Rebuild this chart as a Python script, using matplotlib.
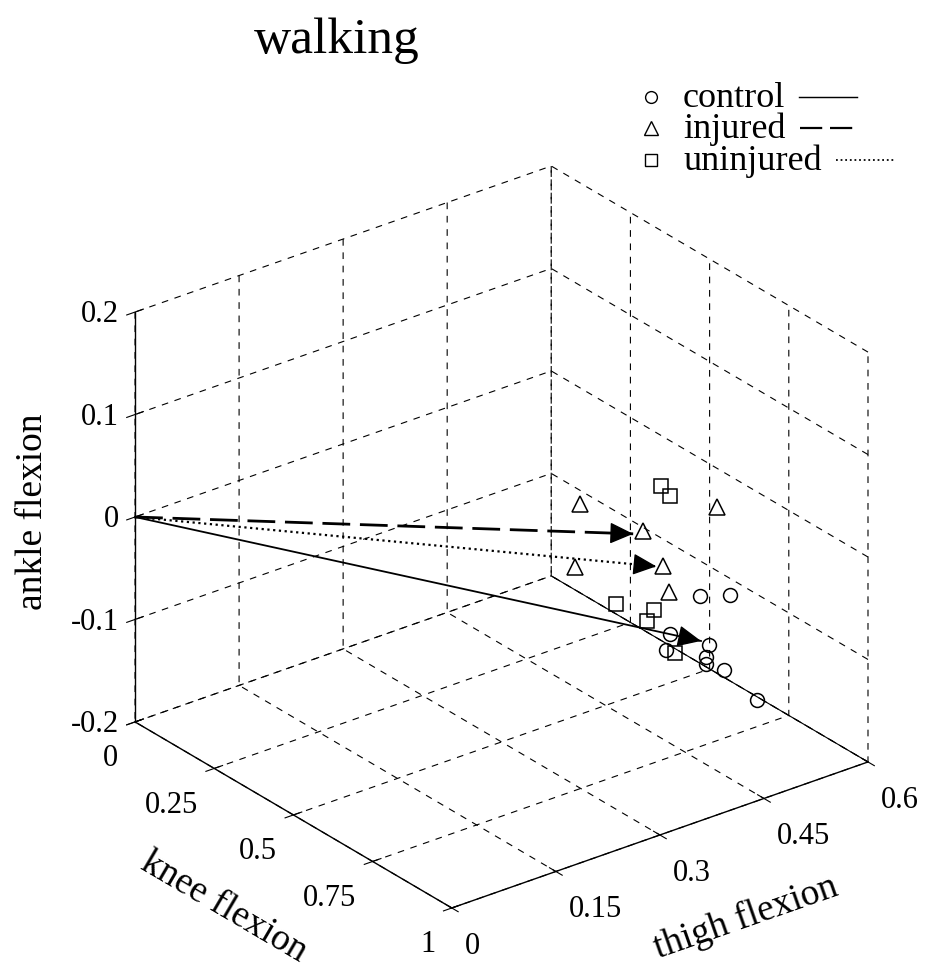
import numpy as np
import matplotlib
matplotlib.use("Agg")
import matplotlib.pyplot as plt
from matplotlib.lines import Line2D
from matplotlib.patches import FancyArrowPatch
from mpl_toolkits.mplot3d import proj3d

plt.rcParams["font.family"] = ["Liberation Serif", "DejaVu Serif"]
plt.rcParams["axes.unicode_minus"] = False

# axis ranges / ticks (x = knee, y = thigh, z = ankle)
knee_lim = [0, 1]
thigh_lim = [0, 0.6]
ankle_lim = [-0.2, 0.2]
knee_ticks = [0, 0.25, 0.5, 0.75, 1]
thigh_ticks = [0, 0.15, 0.3, 0.45, 0.6]
ankle_ticks = [-0.2, -0.1, 0, 0.1, 0.2]
knee_ticklabels = ["0", "0.25", "0.5", "0.75", "1"]
thigh_ticklabels = ["0", "0.15", "0.3", "0.45", "0.6"]
ankle_ticklabels = ["-0.2", "-0.1", "0", "0.1", "0.2"]

groups = ["control", "injured", "uninjured"]

# individual subjects
control_knee = [0.919, 0.893, 0.939, 0.941, 0.910, 0.911, 0.911, 0.893, 0.848]
control_thigh = [0.395, 0.450, 0.342, 0.336, 0.412, 0.407, 0.407, 0.441, 0.510]
control_ankle = [-0.004, -0.021, -0.025, -0.039, -0.058, -0.068, -0.075, -0.092, -0.146]

injured_knee = [0.970, 0.951, 0.902, 0.979, 0.943, 0.940]
injured_thigh = [0.199, 0.298, 0.427, 0.187, 0.331, 0.340]
injured_ankle = [0.142, 0.088, 0.072, 0.085, 0.045, 0.017]

uninjured_knee = [0.936, 0.932, 0.967, 0.949, 0.954, 0.935]
uninjured_thigh = [0.331, 0.346, 0.252, 0.315, 0.302, 0.351]
uninjured_ankle = [0.122, 0.108, 0.031, 0.007, 0.000, -0.046]

# group mean directions (arrows from the origin)
mean_knee = [0.913, 0.955, 0.947]
mean_thigh = [0.399, 0.282, 0.319]
mean_ankle = [-0.050, 0.090, 0.048]


class Arrow3D(FancyArrowPatch):
    def __init__(self, xs, ys, zs, *args, **kwargs):
        super().__init__((0, 0), (0, 0), *args, **kwargs)
        self._verts3d = xs, ys, zs

    def do_3d_projection(self, renderer=None):
        xs3d, ys3d, zs3d = self._verts3d
        xs, ys, zs = proj3d.proj_transform(xs3d, ys3d, zs3d, self.axes.M)
        self.set_positions((xs[0], ys[0]), (xs[1], ys[1]))
        return np.min(zs)


fig = plt.figure(figsize=(9.29, 9.66), dpi=100)
ax = fig.add_axes([0.0953, 0.0166, 0.8657, 0.8325], projection="3d",
                  proj_type="ortho")
ax.view_init(elev=27.0, azim=-37.7)
ax.set_box_aspect((518, 526, 460), zoom=1.05)

for axis in (ax.xaxis, ax.yaxis, ax.zaxis):
    axis.set_pane_color((1, 1, 1, 0))
    axis._axinfo["grid"].update(color="k", linewidth=0.8, linestyle=(0, (6, 6)))
    axis._axinfo["tick"].update(inward_factor=0.25, outward_factor=0.25)
    axis.line.set_linewidth(1.0)
    axis.line.set_color("k")
    axis.offsetText.set_visible(False)

# vertical axis on the left edge
ax.zaxis.set_ticks_position("lower")
ax.zaxis.set_label_position("lower")

ax.set_xlim(knee_lim)
ax.set_ylim(thigh_lim)
ax.set_zlim(ankle_lim)
ax.set_xticks(knee_ticks, knee_ticklabels)
ax.set_yticks(thigh_ticks, thigh_ticklabels)
ax.set_zticks(ankle_ticks, ankle_ticklabels)
ax.tick_params(labelsize=22, width=1.0)
ax.tick_params(axis="x", pad=4)
ax.tick_params(axis="y", pad=4)
ax.tick_params(axis="z", pad=-1.5)
for t in ax.get_xticklabels():
    t.set_ha("right")
for t in ax.get_yticklabels():
    t.set_ha("left")
for t in ax.get_zticklabels():
    t.set_ha("right")
    t.set_va("center_baseline")

ax.set_xlabel("knee flexion", fontsize=27, labelpad=29)
ax.set_zlabel("ankle flexion", fontsize=27, labelpad=21)
ax.yaxis.label.set_visible(False)

# thigh label: projected position beyond the front-right edge,
# rotated to follow the thigh axis on screen
M = ax.get_proj()
lx, ly, _ = proj3d.proj_transform(1.38, 0.25, ankle_lim[0], M)
ex, ey, _ = proj3d.proj_transform([knee_lim[1]] * 2, thigh_lim,
                                  [ankle_lim[0]] * 2, M)
p0, p1 = ax.transData.transform(np.column_stack([ex, ey]))
angle = np.degrees(np.arctan2(p1[1] - p0[1], p1[0] - p0[0]))
ax.text2D(lx, ly, "thigh flexion", transform=ax.transData, fontsize=27,
          rotation=angle, ha="center", va="center")

# back floor edge
ax.plot(knee_lim, [thigh_lim[1]] * 2, [ankle_lim[0]] * 2, color="k", lw=0.8)

styles = {
    "control": dict(ls="-", lw=1.3, marker="o", ms=10),
    "injured": dict(ls=(0, (10, 3.5)), lw=2.0, marker="^", ms=12),
    "uninjured": dict(ls=(0, (1, 1.6)), lw=1.6, marker="s", ms=10),
}
points = {
    "control": (control_knee, control_thigh, control_ankle),
    "injured": (injured_knee, injured_thigh, injured_ankle),
    "uninjured": (uninjured_knee, uninjured_thigh, uninjured_ankle),
}

for i, g in enumerate(groups):
    st = styles[g]
    kx, ty, az = points[g]
    ax.plot(kx, ty, az, linestyle="none", marker=st["marker"], ms=st["ms"],
            mfc="none", mec="k", mew=1.1)
    end = np.array([mean_knee[i], mean_thigh[i], mean_ankle[i]])
    ax.plot([0, end[0]], [0, end[1]], [0, end[2]], color="k",
            linestyle=st["ls"], lw=st["lw"])
    start = 0.965 * end
    head = Arrow3D([start[0], end[0]], [start[1], end[1]], [start[2], end[2]],
                   arrowstyle="-|>,head_length=0.7,head_width=0.32",
                   mutation_scale=21, color="k", lw=1.0,
                   shrinkA=0, shrinkB=0)
    ax.add_artist(head)

fig.text(337 / 929, 1 - 53 / 966, "walking", fontsize=37, ha="center",
         va="baseline")

# legend: marker, label, then line sample
renderer = fig.canvas.get_renderer()
fw, fh = fig.bbox.width, fig.bbox.height
row_base = [107, 138, 170]
for g, yb in zip(groups, row_base):
    st = styles[g]
    y = 1 - yb / fh
    ymid = 1 - (yb - 10.5) / fh
    fig.add_artist(Line2D([651 / fw], [ymid], marker=st["marker"],
                          ms=st["ms"] * 0.85, mfc="none", mec="k", mew=1.0,
                          transform=fig.transFigure))
    txt = fig.text(683 / fw, y, g, fontsize=26, ha="left", va="baseline")
    bb = txt.get_window_extent(renderer)
    x0 = (bb.x1 + 14) / fw
    fig.add_artist(Line2D([x0, x0 + 58 / fw], [ymid, ymid], color="k",
                          linestyle=st["ls"], lw=st["lw"] * 0.8,
                          transform=fig.transFigure))

fig.savefig("out.png", dpi=100)
